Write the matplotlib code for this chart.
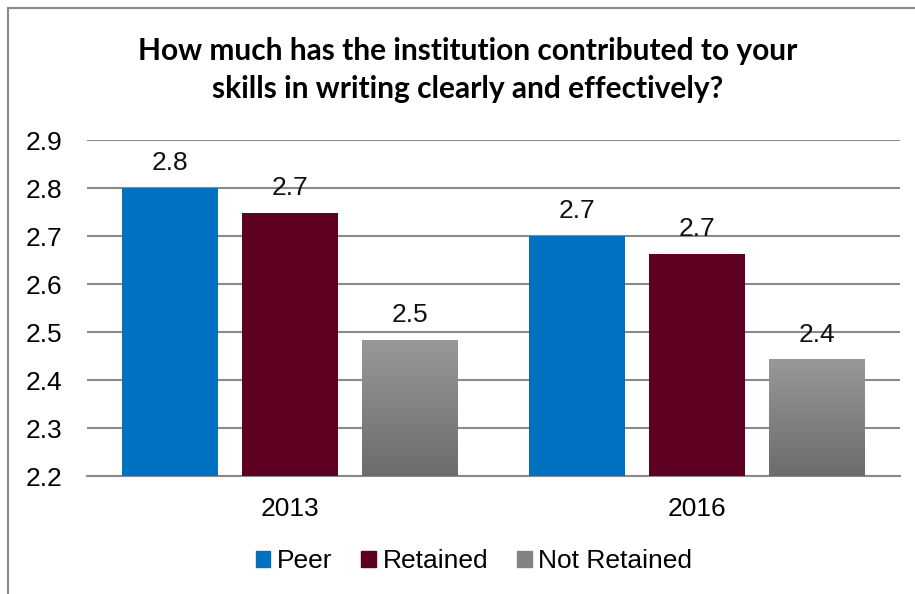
import numpy as np
import matplotlib
matplotlib.use("Agg")
import matplotlib.pyplot as plt
from matplotlib.patches import Rectangle, Patch

years = ["2013", "2016"]
series = ["Peer", "Retained", "Not Retained"]
peer = [2.80, 2.70]
retained = [2.748, 2.662]
not_retained = [2.483, 2.442]

colors = ["#0070C0", "#5E0021", None]
title = "How much has the institution contributed to your\nskills in writing clearly and effectively?"

plt.rcParams["font.family"] = ["Liberation Sans", "DejaVu Sans"]

fig = plt.figure(figsize=(9.15, 5.94), dpi=100)
ax = fig.add_axes([87 / 915, 1 - 476 / 594, 813 / 915, 336 / 594])

ymin, ymax = 2.2, 2.9
x = np.arange(len(years))
width = 0.236
step = 0.295
grad = np.linspace(0, 1, 256).reshape(-1, 1)
gray_cmap = matplotlib.colors.LinearSegmentedColormap.from_list("g", ["#6c6c6c", "#989898"])

for i, (name, vals) in enumerate(zip(series, [peer, retained, not_retained])):
    pos = x + (i - 1) * step
    for p, v in zip(pos, vals):
        if colors[i] is not None:
            ax.bar(p, v - ymin, width, bottom=ymin, color=colors[i], zorder=3)
        else:
            ax.imshow(grad, extent=[p - width / 2, p + width / 2, ymin, v], origin="lower",
                      aspect="auto", cmap=gray_cmap, zorder=3)
        ax.text(p, v + 0.027, f"{v:.1f}", ha="center", va="bottom", fontsize=19, color="#111111", zorder=4)

ax.set_xlim(-0.5, 1.5)
ax.set_ylim(ymin, ymax)
ax.set_yticks(np.arange(2.2, 2.91, 0.1))
ax.set_yticklabels([f"{t:.1f}" for t in np.arange(2.2, 2.91, 0.1)], fontsize=19)
ax.set_xticks(x)
ax.set_xticklabels(years, fontsize=19)
ax.tick_params(axis="y", length=0, pad=18)
ax.tick_params(axis="x", length=0, pad=15)
ax.grid(axis="y", color="#8a8a8a", linewidth=1.5, zorder=0)
for s in ["left", "right", "top"]:
    ax.spines[s].set_visible(False)
ax.spines["bottom"].set_color("#8a8a8a")
ax.spines["bottom"].set_linewidth(1.5)

fig.text(0.511, 1 - 70 / 594, title, ha="center", va="center", fontsize=21.5,
         fontweight="bold", family=["Lato", "DejaVu Sans"], linespacing=1.45)

handles = [Patch(color=colors[0]), Patch(color=colors[1]), Patch(color="#828282")]
fig.legend(handles, series, loc="center", bbox_to_anchor=(0.518, 1 - 561 / 594), ncol=3,
           frameon=False, fontsize=19, handlelength=0.55, handleheight=0.55,
           handletextpad=0.25, columnspacing=1.1)

fig.add_artist(Rectangle((8 / 915, -0.1), 1.0, 1.1 - 8 / 594, transform=fig.transFigure,
                         fill=False, edgecolor="#8a8a8a", linewidth=1.5))

fig.savefig("out.png", dpi=100)
